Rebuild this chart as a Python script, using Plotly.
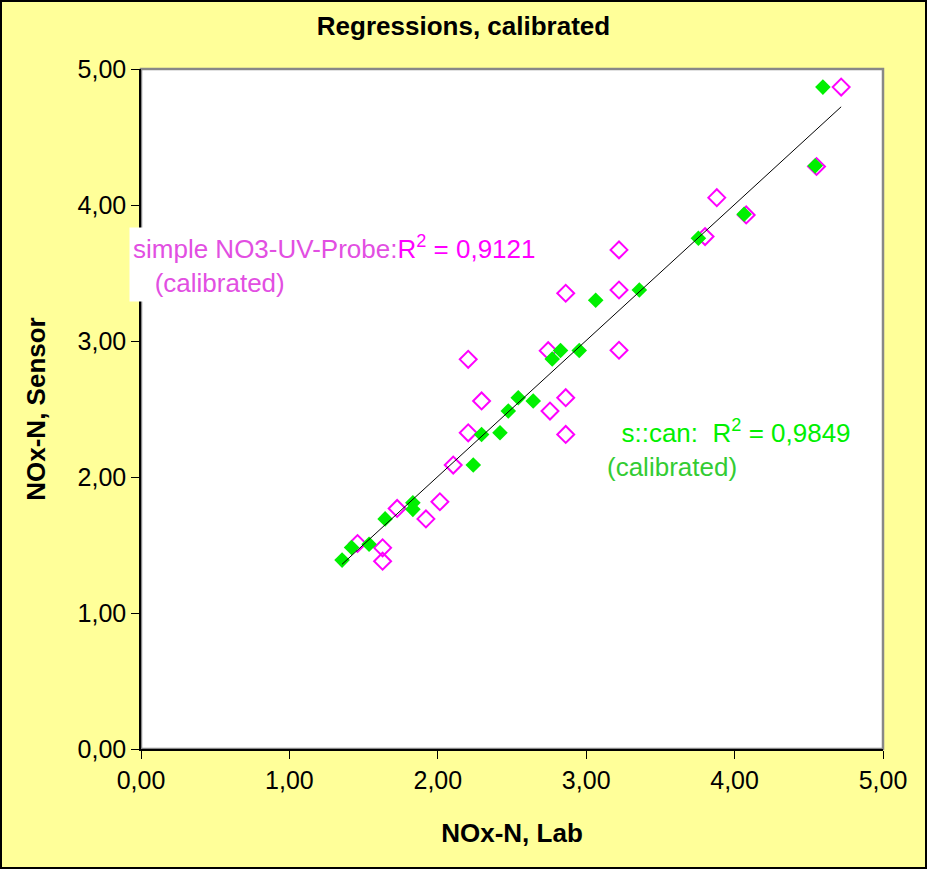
import numpy as np
import plotly.graph_objects as go

# NOx-N: lab reference vs. sensor reading, both calibrated
scan_lab = [1.355, 1.419, 1.537, 1.645, 1.832, 1.832, 2.239, 2.295, 2.419, 2.475,
            2.542, 2.643, 2.771, 2.827, 2.953, 3.064, 3.358, 3.756, 4.064, 4.543, 4.595]
scan_sensor = [1.389, 1.482, 1.506, 1.692, 1.810, 1.762, 2.088, 2.313, 2.325, 2.485,
               2.583, 2.559, 2.868, 2.930, 2.930, 3.300, 3.375, 3.756, 3.932, 4.288, 4.867]

probe_lab = [1.459, 1.628, 1.628, 1.726, 1.920, 2.014, 2.104, 2.205, 2.205, 2.295,
             2.744, 2.756, 2.862, 2.862, 2.862, 3.221, 3.221, 3.221, 3.801, 3.880,
             4.078, 4.552, 4.718]
probe_sensor = [1.511, 1.479, 1.381, 1.769, 1.692, 1.818, 2.088, 2.325, 2.865, 2.559,
                2.929, 2.485, 2.583, 2.313, 3.351, 3.670, 3.375, 2.932, 3.768, 4.054,
                3.927, 4.283, 4.867]

axis_ticks = [0, 1, 2, 3, 4, 5]

W, H = 927, 869
ML, MR, MT, MB = 141, 44, 69, 120
PW, PH = W - ML - MR, H - MT - MB


def px_x(p):
    return (p - ML) / PW


def px_y(p):
    return (H - MB - p) / PH


FONT = "Liberation Sans, Arial, sans-serif"

# linear regression line for the s::can series
slope, intercept = np.polyfit(scan_lab, scan_sensor, 1)
all_x = scan_lab + probe_lab
fit_x = np.array([min(all_x), max(all_x)])
fit_y = slope * fit_x + intercept

fig = go.Figure()
fig.add_trace(go.Scatter(
    x=probe_lab, y=probe_sensor, mode="markers",
    marker=dict(symbol="diamond-open", size=13, color="#FF00FF",
                line=dict(width=2, color="#FF00FF")),
    name="simple NO3-UV-Probe"))
fig.add_trace(go.Scatter(
    x=scan_lab, y=scan_sensor, mode="markers",
    marker=dict(symbol="diamond", size=12, color="#00F000", line=dict(width=0)),
    name="s::can"))
fig.add_trace(go.Scatter(
    x=fit_x, y=fit_y, mode="lines",
    line=dict(color="black", width=1), name="trend"))

axis_common = dict(
    range=[0, 5], tickvals=axis_ticks, tickformat=".2f",
    showgrid=False, zeroline=False,
    showline=True, linecolor="black", linewidth=1.5,
    ticks="outside", ticklen=8, tickcolor="black", tickwidth=1,
    tickfont=dict(family=FONT, size=25, color="black"),
)

fig.update_layout(
    width=W, height=H,
    margin=dict(l=ML, r=MR, t=MT, b=MB, pad=0),
    paper_bgcolor="#FFFF99", plot_bgcolor="white",
    separators=",.",
    showlegend=False,
    title=dict(text="<b>Regressions, calibrated</b>", x=0.5, xanchor="center",
               y=1 - 26 / H, yanchor="middle",
               font=dict(family=FONT, size=26, color="black")),
    xaxis=dict(axis_common,
               title=dict(text="<b>NOx-N, Lab</b>", standoff=31,
                          font=dict(family=FONT, size=26, color="black"))),
    yaxis=dict(axis_common,
               title=dict(text="<b>NOx-N, Sensor</b>", standoff=24,
                          font=dict(family=FONT, size=26, color="black"))),
)

# gray frame of the plot area (top and right edges show)
fig.add_shape(type="rect", xref="paper", yref="paper", x0=0, x1=1, y0=0, y1=1,
              line=dict(color="#888888", width=2.5), layer="below")
# outer chart border
fig.add_shape(type="rect", xref="paper", yref="paper",
              x0=px_x(1), x1=px_x(W - 1), y0=px_y(H - 1), y1=px_y(1),
              line=dict(color="black", width=2))

nb = "\u00a0"
fig.add_annotation(
    xref="paper", yref="paper", x=px_x(129), y=px_y(264),
    xanchor="left", yanchor="middle", align="left", showarrow=False,
    bgcolor="white", borderpad=3,
    text=("simple NO3-UV-Probe:<span style='color:#FF00FF'>R<sup>2</sup> = 0,9121</span>"
          "<br>" + nb * 3 + "(calibrated)"),
    font=dict(family=FONT, size=26, color="#E24FE2"))

fig.add_annotation(
    xref="paper", yref="paper", x=px_x(605), y=px_y(448),
    xanchor="left", yanchor="middle", align="left", showarrow=False,
    text=(nb * 2 + "<span style='color:#00F000'>s::can:" + nb * 2 + "R<sup>2</sup> = 0,9849</span>"
          "<br>(calibrated)"),
    font=dict(family=FONT, size=26, color="#33CC33"))

fig.write_html("out.html")
